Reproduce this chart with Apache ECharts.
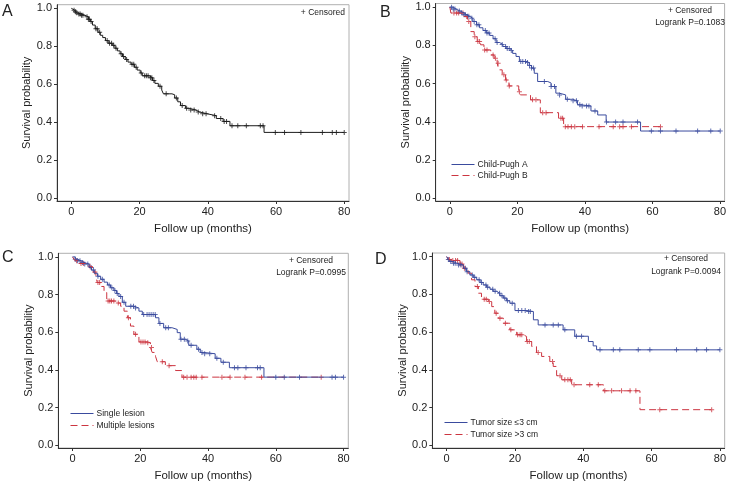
<!DOCTYPE html>
<html>
<head>
<meta charset="utf-8">
<script src="https://cdn.jsdelivr.net/npm/echarts@6/dist/echarts.min.js"></script>
<style>
html, body { margin: 0; padding: 0; background: #fff; }
#main { width: 729px; height: 483px; }
</style>
</head>
<body>
<div id="main"></div>
<script>
// tick labels
var xTicks = [0, 20, 40, 60, 80];
var yTicks = [0, 0.2, 0.4, 0.6, 0.8, 1.0];

// A: all patients  [month, survival]
var aSteps = [[0,1],[0.5,0.99],[1,0.982],[1.5,0.976],[2,0.97],[3,0.963],[4,0.955],[5,0.942],[5.6,0.93],[6.2,0.912],
  [7,0.893],[7.8,0.874],[8.5,0.858],[9.2,0.846],[10,0.83],[10.8,0.816],[12,0.805],[12.8,0.79],[13.5,0.776],[14.3,0.761],
  [15,0.746],[15.8,0.731],[16.6,0.717],[17.5,0.705],[18.5,0.69],[19.3,0.675],[20.2,0.66],[20.8,0.645],[22.8,0.635],[23.8,0.62],
  [24.5,0.605],[25.5,0.59],[26.5,0.57],[27,0.55],[29.5,0.545],[30.3,0.528],[31.2,0.508],[32,0.488],[33.5,0.474],[34.5,0.465],
  [36.5,0.455],[37.5,0.445],[39.8,0.435],[42.5,0.42],[44.5,0.405],[46.5,0.382],[56.5,0.347]];
var aEnd = 80;
var aCens = [0.8,1.2,1.6,2.2,2.6,3.0,3.4,4.6,5.0,5.3,5.8,7.2,7.6,8.3,10.5,11.2,11.8,12.4,13.1,14.6,15.3,16.2,17.8,18.3,19.0,
  20.5,21.5,22.0,22.5,23.2,23.6,24.2,26.0,27.8,30.8,32.5,33.8,35.0,36.0,37.2,38.5,39.5,42.0,43.8,44.8,45.5,47.1,48.8,51.3,
  55.4,56.2,59.8,62.5,67.3,73.6,76.5,77.7,80];

// B: Child-Pugh A / B
var bNames = ['Child-Pugh A', 'Child-Pugh B'];
var bASteps = [[0,1],[1,0.99],[1.8,0.98],[3,0.97],[4.2,0.96],[5,0.952],[5.8,0.942],[6.8,0.925],[7.9,0.908],[8.8,0.892],
  [9.8,0.878],[10.8,0.865],[11.8,0.852],[12.8,0.835],[13.7,0.815],[14.7,0.805],[15.7,0.794],[16.7,0.783],[17.7,0.773],[18.6,0.758],
  [19.6,0.742],[20.6,0.716],[22.6,0.71],[23.5,0.695],[24.2,0.681],[25,0.654],[26,0.611],[29,0.603],[30,0.585],[31.4,0.55],
  [32.4,0.541],[34.3,0.518],[36.3,0.51],[37.8,0.489],[38.8,0.483],[41.8,0.457],[43.8,0.436],[46.3,0.399],[56.5,0.352]];
var bAEnd = 80;
var bACens = [0.5,1.0,1.5,2.8,3.5,4.2,4.6,5.2,5.6,6.5,7.2,8.0,8.6,10.5,11.0,11.6,13.4,14.0,15.5,16.5,17.0,17.6,18.2,21.0,21.6,
  22.4,23.0,23.6,24.2,24.8,28.0,30.0,31.0,32.5,34.8,36.5,37.5,38.5,39.2,40.5,41.2,43.0,46.4,49.1,51.3,55.6,59.7,62.4,67.0,73.4,77.3,80.1];
var bBSteps = [[0,1],[0.3,0.969],[4.2,0.951],[5.2,0.925],[6.2,0.872],[7.2,0.845],[8.1,0.82],[9.1,0.803],[10.1,0.776],[12.1,0.75],
  [13.1,0.733],[14,0.707],[14.5,0.672],[15.5,0.646],[16.5,0.619],[17.5,0.588],[20.4,0.558],[20.9,0.541],[23.9,0.515],[26.8,0.448],
  [32.2,0.419],[33.7,0.375]];
var bBEnd = 62.6;
var bBCens = [1.2,2.0,2.6,3.9,5.0,5.6,7.4,8.3,8.8,10.3,11.0,12.8,13.5,14.3,16.0,16.7,17.6,20.6,24.5,25.5,27.5,28.5,32.9,33.4,
  34.2,35.0,36.0,37.0,39.3,44.2,48.4,50.3,51.3,53.8,62.4];

// C: single / multiple lesions
var cNames = ['Single lesion', 'Multiple lesions'];
var cASteps = [[0,1],[0.8,0.988],[1.5,0.979],[2.5,0.97],[3.4,0.962],[4.9,0.944],[5.6,0.93],[6.4,0.913],[7.4,0.897],[8.3,0.881],
  [9.3,0.866],[10.3,0.851],[11.2,0.836],[12.2,0.822],[13,0.806],[13.7,0.79],[14.7,0.759],[15.7,0.738],[18.1,0.729],[19.6,0.712],
  [20.6,0.694],[24.5,0.677],[25.5,0.647],[26.9,0.624],[29.4,0.615],[30.9,0.598],[31.8,0.563],[33.3,0.554],[34.3,0.531],[36.7,0.51],
  [37.7,0.493],[38.7,0.486],[42.1,0.462],[43.8,0.441],[46.3,0.412],[56.5,0.362]];
var cAEnd = 80;
var cACens = [0.8,1.5,2.2,3.0,3.6,4.5,5.5,6.2,7.5,8.8,10.8,11.6,12.5,13.2,14.2,15.2,17.2,18.0,18.6,21.0,22.0,22.6,23.2,23.8,24.4,
  25.8,27.5,28.3,32.0,33.0,34.0,35.0,37.2,38.2,39.0,40.5,42.6,44.5,47.8,48.8,51.2,54.6,55.4,60.0,62.5,67.0,76.6,77.6,80.0];
var cBSteps = [[0,1],[0.5,0.985],[1,0.979],[2,0.965],[4.9,0.948],[5.9,0.92],[6.9,0.895],[7.3,0.864],[8.3,0.843],[9.3,0.811],
  [10.1,0.766],[12.7,0.755],[14.2,0.738],[15.2,0.712],[16.2,0.677],[17.1,0.633],[18.1,0.589],[19.6,0.549],[22,0.545],[23,0.519],
  [23.5,0.493],[24.5,0.472],[25,0.444],[27.4,0.423],[30.4,0.397],[32.3,0.362]];
var cBEnd = 73.4;
var cBCens = [1.2,2.5,3.2,5.2,6.6,7.5,8.0,10.5,11.0,11.5,12.2,13.5,16.5,18.6,20.2,20.8,21.4,22.2,23.3,26.5,28.5,32.8,33.8,35.0,
  35.8,36.5,38.2,44.1,46.5,50.9,55.8,73.4];

// D: tumor size
var dNames = ['Tumor size \u22643 cm', 'Tumor size >3 cm'];
var dASteps = [[0,1],[0.5,0.985],[1,0.974],[2,0.965],[2.9,0.956],[4.9,0.938],[5.8,0.92],[6.8,0.903],[7.8,0.89],[8.8,0.877],
  [9.8,0.863],[10.7,0.85],[11.7,0.838],[12.7,0.827],[13.6,0.816],[14.6,0.806],[15.6,0.793],[16.6,0.78],[17.5,0.766],[18.5,0.753],
  [20,0.714],[23.4,0.709],[25.4,0.665],[26.8,0.638],[34.1,0.612],[37.5,0.578],[41.5,0.55],[42.9,0.527],[43.9,0.506]];
var dAEnd = 80;
var dACens = [0.5,1.2,2.0,2.5,3.5,4.2,5.5,6.0,7.5,8.2,9.5,10.2,11.5,12.0,13.5,14.2,15.5,16.2,17.0,17.8,19.2,21.0,22.0,23.0,24.0,
  24.5,28.8,31.2,32.7,34.6,38.0,39.5,44.9,48.8,50.7,56.1,59.5,67.3,73.2,76.1,80.0];
var dBSteps = [[0,1],[0.5,0.985],[1.5,0.979],[3.9,0.961],[4.9,0.938],[6.3,0.912],[7.3,0.877],[8.3,0.841],[9.3,0.806],[10.2,0.774],
  [12.2,0.762],[13.2,0.735],[14.1,0.7],[15.1,0.674],[16.6,0.647],[18.5,0.612],[20.5,0.586],[22.4,0.577],[23.4,0.55],[24.9,0.524],
  [26.3,0.492],[27.8,0.471],[30.2,0.444],[31.2,0.418],[32.2,0.369],[33.7,0.347],[36.6,0.321],[45.9,0.289],[56.6,0.189]];
var dBEnd = 77.6;
var dBCens = [0.8,1.8,2.6,3.2,4.0,4.5,5.2,9.0,11.0,11.6,12.5,14.5,15.6,17.2,18.8,20.8,21.5,22.0,23.6,24.2,26.8,31.0,33.2,34.6,
  35.5,36.2,37.3,41.9,44.4,46.3,48.3,51.2,53.7,55.4,62.4,77.6];

var FONT = '"Liberation Sans", Arial, Helvetica, sans-serif';
var BLACK = '#1c1c1c', BLUE = '#3a4b9e', RED = '#cc3540';
var PLUS = 'path://M2,0H3V2H5V3H3V5H2V3H0V2H2Z';

var grids = [
  { left: 57, top: 4.7, width: 292, height: 196.3 },
  { left: 435.7, top: 3.5, width: 290.6, height: 197.5 },
  { left: 58.3, top: 253.3, width: 290, height: 197.4 },
  { left: 432.3, top: 253, width: 293.4, height: 196.3 }
];

function stepLine(steps, end) {
  var d = steps.slice();
  d.push([end, steps[steps.length - 1][1]]);
  return d;
}
// censor marks sit on the curve at their time
function censPoints(steps, cens) {
  return cens.map(function (c) {
    var s = steps[0][1];
    for (var i = 0; i < steps.length; i++) { if (steps[i][0] <= c) s = steps[i][1]; }
    return [c, s];
  });
}

function xAx(i) {
  return {
    gridIndex: i, type: 'value', min: -4.2, max: 81.4,
    name: 'Follow up (months)', nameLocation: 'middle', nameGap: 22,
    nameTextStyle: { fontSize: 11.5, color: '#222', fontFamily: FONT },
    axisLine: { onZero: false, lineStyle: { color: '#333', width: 1 } },
    axisTick: { customValues: xTicks, length: 3, lineStyle: { color: '#333' } },
    axisLabel: { customValues: xTicks, fontSize: 11, color: '#222', fontFamily: FONT, margin: 5 },
    splitLine: { show: false }
  };
}
function yAx(i) {
  return {
    gridIndex: i, type: 'value', min: -0.014, max: 1.019,
    name: 'Survival probability', nameLocation: 'middle', nameGap: 19,
    nameTextStyle: { fontSize: 11, color: '#222', fontFamily: FONT },
    axisLine: { onZero: false, lineStyle: { color: '#333', width: 1 } },
    axisTick: { customValues: yTicks, length: 3, lineStyle: { color: '#333' } },
    axisLabel: { customValues: yTicks, fontSize: 11, color: '#222', fontFamily: FONT, margin: 5,
      formatter: function (v) { return v.toFixed(1); } },
    splitLine: { show: false }
  };
}

var series = [];
function addCurve(i, name, steps, end, cens, color, dashed) {
  series.push({
    name: name, type: 'line', xAxisIndex: i, yAxisIndex: i, step: 'end',
    symbol: 'none', animation: false, silent: true,
    lineStyle: { color: color, width: 1, type: dashed ? [7, 4] : 'solid' },
    itemStyle: { color: color },
    data: stepLine(steps, end)
  });
  series.push({
    name: name + ' censored', type: 'scatter', xAxisIndex: i, yAxisIndex: i,
    symbol: PLUS, symbolSize: 5, animation: false, silent: true,
    itemStyle: { color: color },
    data: censPoints(steps, cens)
  });
}
addCurve(0, 'All', aSteps, aEnd, aCens, BLACK, false);
addCurve(1, bNames[1], bBSteps, bBEnd, bBCens, RED, true);
addCurve(1, bNames[0], bASteps, bAEnd, bACens, BLUE, false);
addCurve(2, cNames[1], cBSteps, cBEnd, cBCens, RED, true);
addCurve(2, cNames[0], cASteps, cAEnd, cACens, BLUE, false);
addCurve(3, dNames[1], dBSteps, dBEnd, dBCens, RED, true);
addCurve(3, dNames[0], dASteps, dAEnd, dACens, BLUE, false);

function legendAt(names, left, top, gap) {
  return {
    data: [
      { name: names[0], lineStyle: { color: BLUE, width: 1, type: 'solid' } },
      { name: names[1], lineStyle: { color: RED, width: 1, type: [7, 4] } }
    ],
    orient: 'vertical', left: left, top: top,
    itemWidth: 23, itemHeight: 10, itemGap: gap, padding: 0, selectedMode: false,
    itemStyle: { opacity: 0 },
    textStyle: { fontSize: 8.5, color: '#222', fontFamily: FONT, padding: [0, 0, 0, -2] }
  };
}

function txt(x, y, text, size, align) {
  return { type: 'text', x: x, y: y, silent: true,
    style: { text: text, font: size + 'px ' + FONT, fill: '#222', align: align, verticalAlign: 'middle' } };
}

var chart = echarts.init(document.getElementById('main'));
chart.setOption({
  backgroundColor: '#fff',
  animation: false,
  grid: grids.map(function (g) {
    return { left: g.left, top: g.top, width: g.width, height: g.height, show: true,
      borderColor: '#b0b0b0', borderWidth: 1, containLabel: false };
  }),
  xAxis: [xAx(0), xAx(1), xAx(2), xAx(3)],
  yAxis: [yAx(0), yAx(1), yAx(2), yAx(3)],
  legend: [legendAt(bNames, 451, 160, 2), legendAt(cNames, 70, 409, 3), legendAt(dNames, 444, 418, 3)],
  graphic: { elements: [
    txt(2, 12, 'A', 16, 'left'),
    txt(380, 12.5, 'B', 16, 'left'),
    txt(2, 258, 'C', 16, 'left'),
    txt(375, 260, 'D', 16, 'left'),
    txt(345, 12.3, '+ Censored', 8.5, 'right'),
    txt(690, 10.7, '+ Censored', 8.5, 'center'),
    txt(690, 22.7, 'Logrank P=0.1083', 8.5, 'center'),
    txt(311, 260.7, '+ Censored', 8.5, 'center'),
    txt(311, 272.7, 'Logrank P=0.0995', 8.5, 'center'),
    txt(686, 259, '+ Censored', 8.5, 'center'),
    txt(686, 271.7, 'Logrank P=0.0094', 8.5, 'center')
  ] },
  series: series
});
</script>
</body>
</html>
